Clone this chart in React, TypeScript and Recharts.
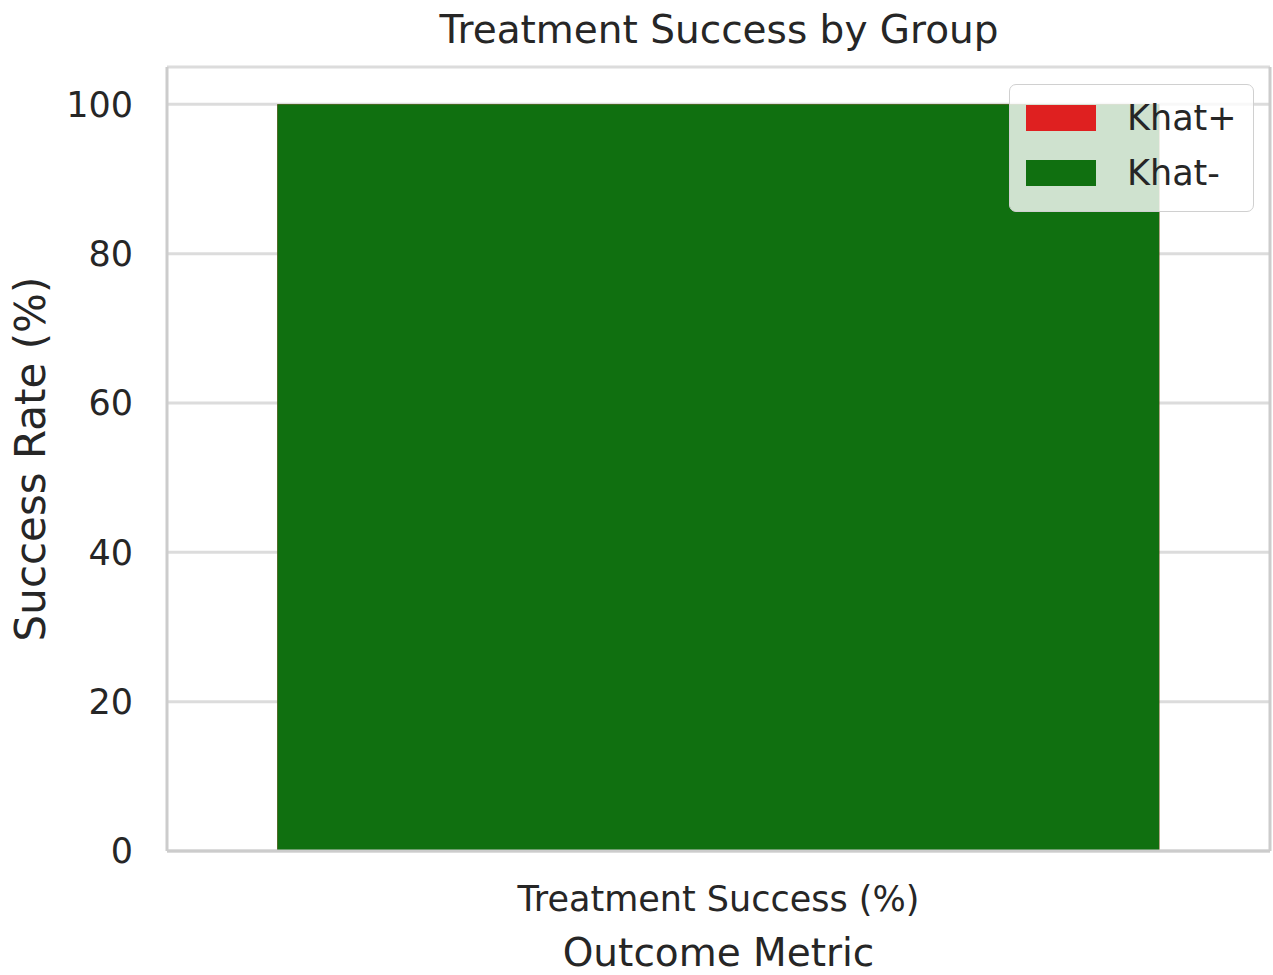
import {
  BarChart,
  Bar,
  XAxis,
  YAxis,
  CartesianGrid,
} from 'recharts';

const categories = ['Treatment Success (%)'];
const khatPositive = [100];
const khatNegative = [100];
const yTicks = [0, 20, 40, 60, 80, 100];

const groups = [
  { key: 'khatPos', name: 'Khat+', color: '#df2020' },
  { key: 'khatNeg', name: 'Khat-', color: '#107010' },
];

const data = categories.map((metric, i) => ({
  metric,
  khatPos: khatPositive[i],
  khatNeg: khatNegative[i],
}));

const FONT = '"DejaVu Sans", sans-serif';
const TEXT = '#262626';
const SPINE = '#cccccc';

function GroupLegend() {
  return (
    <div
      style={{
        position: 'absolute',
        left: 1009,
        top: 84,
        boxSizing: 'border-box',
        width: 245,
        height: 128,
        background: 'rgba(255,255,255,0.8)',
        border: '1.5px solid #d0d0d0',
        borderRadius: 7,
        padding: '12px 0 0 16px',
        fontFamily: FONT,
        fontSize: 35,
        color: TEXT,
      }}
    >
      {groups.map((g, i) => (
        <div
          key={g.key}
          style={{ display: 'flex', alignItems: 'center', height: 42, marginTop: i === 0 ? 0 : 13 }}
        >
          <span
            style={{
              display: 'inline-block',
              width: 70,
              height: 26,
              background: g.color,
              marginRight: 31,
            }}
          />
          <span>{g.name}</span>
        </div>
      ))}
    </div>
  );
}

export default function App() {
  return (
    <div style={{ position: 'absolute', left: 0, top: 0, width: 1273, height: 975, background: '#fff' }}>
      <div
        style={{
          position: 'absolute',
          top: 7,
          left: 167,
          width: 1104,
          textAlign: 'center',
          fontFamily: FONT,
          fontSize: 39,
          color: TEXT,
        }}
      >
        Treatment Success by Group
      </div>
      <BarChart
        width={1273}
        height={975}
        data={data}
        margin={{ top: 67, right: 1, bottom: 0, left: 0 }}
        barCategoryGap="10%"
      >
        <CartesianGrid
          xAxisId="main"
          yAxisId="left"
          horizontal
          vertical={false}
          stroke="#dcdcdc"
          strokeWidth={3}
        />
        <XAxis
          xAxisId="main"
          dataKey="metric"
          height={124}
          tickSize={0}
          tickMargin={35}
          stroke={SPINE}
          strokeWidth={3}
          tick={{ fill: TEXT, fontSize: 35, fontFamily: FONT }}
          label={{
            value: 'Outcome Metric',
            position: 'insideBottom',
            offset: 9,
            fill: TEXT,
            fontSize: 39,
            fontFamily: FONT,
          }}
        />
        <XAxis
          xAxisId="back"
          dataKey="metric"
          orientation="top"
          height={0}
          tick={false}
          tickSize={0}
          stroke={SPINE}
          strokeWidth={3}
        />
        <YAxis
          yAxisId="left"
          width={167}
          domain={[0, 105]}
          ticks={yTicks}
          tickSize={0}
          tickMargin={34}
          stroke={SPINE}
          strokeWidth={3}
          tick={{ fill: TEXT, fontSize: 35, fontFamily: FONT }}
          label={{
            value: 'Success Rate (%)',
            angle: -90,
            position: 'center',
            dx: -53,
            fill: TEXT,
            fontSize: 42,
            fontFamily: FONT,
          }}
        />
        <YAxis
          yAxisId="right"
          orientation="right"
          width={2}
          domain={[0, 105]}
          ticks={yTicks}
          tick={false}
          tickLine={false}
          tickSize={0}
          axisLine={{ stroke: SPINE, strokeWidth: 3 }}
        />
        <Bar
          dataKey="khatPos"
          name="Khat+"
          xAxisId="back"
          yAxisId="right"
          fill={groups[0].color}
          isAnimationActive={false}
        />
        <Bar
          dataKey="khatNeg"
          name="Khat-"
          xAxisId="main"
          yAxisId="left"
          fill={groups[1].color}
          isAnimationActive={false}
        />
      </BarChart>
      <GroupLegend />
    </div>
  );
}
